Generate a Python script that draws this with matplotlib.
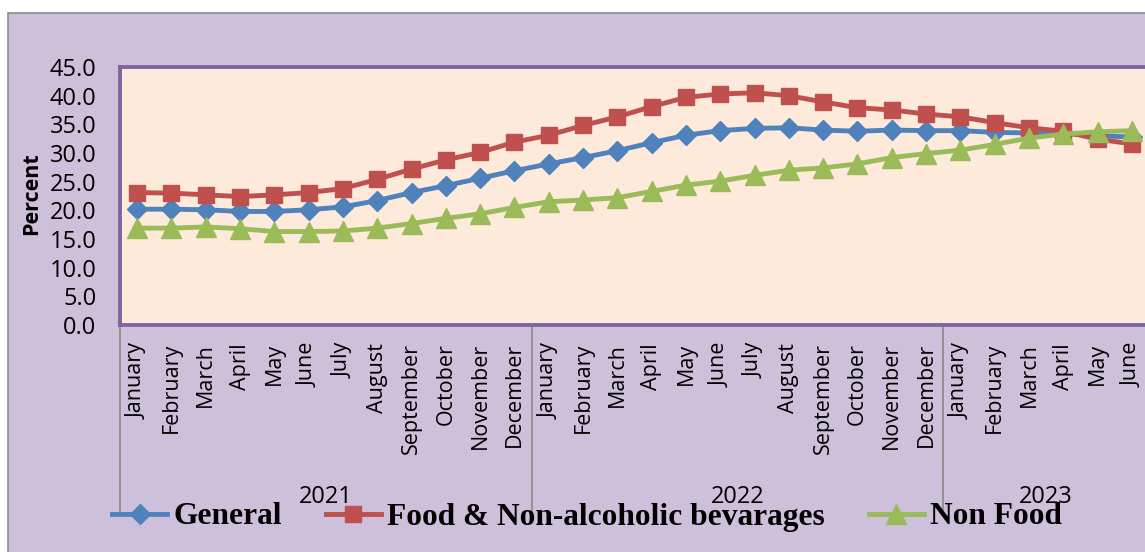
import numpy as np
import matplotlib.pyplot as plt
from matplotlib.patches import Rectangle
import matplotlib.transforms as mtransforms

months = ['January', 'February', 'March', 'April', 'May', 'June', 'July', 'August',
          'September', 'October', 'November', 'December'] * 2 + \
         ['January', 'February', 'March', 'April', 'May', 'June']
years = ['2021', '2022', '2023']
year_len = [12, 12, 6]

general = [20.2, 20.2, 20.1, 19.8, 19.8, 20.1, 20.6, 21.7, 23.1, 24.3, 25.6, 26.9,
           28.1, 29.2, 30.4, 31.8, 33.1, 33.9, 34.3, 34.4, 34.0, 33.8, 34.0, 33.9,
           33.9, 33.6, 33.5, 33.4, 33.0, 32.8]
food = [23.1, 23.0, 22.7, 22.4, 22.7, 23.1, 23.8, 25.4, 27.2, 28.8, 30.1, 31.9,
        33.1, 34.8, 36.3, 38.1, 39.7, 40.3, 40.5, 40.0, 38.9, 37.9, 37.5, 36.8,
        36.3, 35.3, 34.4, 33.8, 32.4, 31.6]
non_food = [16.9, 16.9, 17.1, 16.8, 16.3, 16.3, 16.4, 16.9, 17.7, 18.6, 19.4, 20.5,
            21.5, 21.8, 22.2, 23.3, 24.4, 25.1, 26.1, 27.0, 27.4, 28.1, 29.2, 29.9,
            30.5, 31.5, 32.6, 33.3, 33.7, 33.9]

W, H = 1145, 552
fig = plt.figure(figsize=(W / 100, H / 100), dpi=100)
fig.patch.set_facecolor('white')
fig.patches.append(Rectangle((8 / W, -0.05), 1.1, 1 - 13 / H + 0.05, transform=fig.transFigure,
                             facecolor='#CCC0DA', edgecolor='#8c8c8c', lw=1.2, zorder=-5))

ax = fig.add_axes([120 / W, 1 - 325 / H, 1029 / W, 258 / H])
ax.set_facecolor('#FDEADA')
for s in ax.spines.values():
    s.set_color('#8064A2')
    s.set_linewidth(2.8)

x = np.arange(len(months))
l1, = ax.plot(x, general, color='#4F81BD', lw=3.5, marker='D', ms=10, label='General')
l2, = ax.plot(x, food, color='#C0504D', lw=3.5, marker='s', ms=11,
              label='Food & Non-alcoholic bevarages')
l3, = ax.plot(x, non_food, color='#9BBB59', lw=3.5, marker='^', ms=14, label='Non Food')

ax.set_xlim(-0.5, len(months) - 0.5)
ax.set_ylim(0, 45)
ax.set_yticks(np.arange(0, 46, 5))
ax.set_yticklabels(['%.1f' % v for v in np.arange(0, 46, 5)], fontsize=17, family='Open Sans')
ax.tick_params(axis='y', length=0, pad=17)
ax.set_xticks(x)
ax.set_xticklabels(months, rotation=90, fontsize=15.5, family='Open Sans')
ax.tick_params(axis='x', length=0, pad=13)

ax.set_ylabel('Percent', fontsize=15.5, fontweight='bold', family='Open Sans')
ax.yaxis.set_label_coords(-78 / 1029, 0.51)

# year group separators and labels
trans = mtransforms.blended_transform_factory(ax.transData, ax.transAxes)
start = 0
for yr, n in zip(years, year_len):
    ax.plot([start - 0.5, start - 0.5], [0, -0.73], color='#8c8c8c', lw=1.3,
            transform=trans, clip_on=False)
    ax.text(start + (n - 1) / 2, -0.665, yr, transform=trans, ha='center', va='center',
            fontsize=17, family='Open Sans')
    start += n

fig.legend(handles=[l1, l2, l3], loc='center', bbox_to_anchor=(587 / W, 1 - 517 / H),
           ncol=3, frameon=False, handlelength=1.75, handletextpad=0.2, columnspacing=1.4,
           prop={'family': 'Liberation Serif', 'weight': 'bold', 'size': 22.6})

fig.savefig('out.png', dpi=100)
